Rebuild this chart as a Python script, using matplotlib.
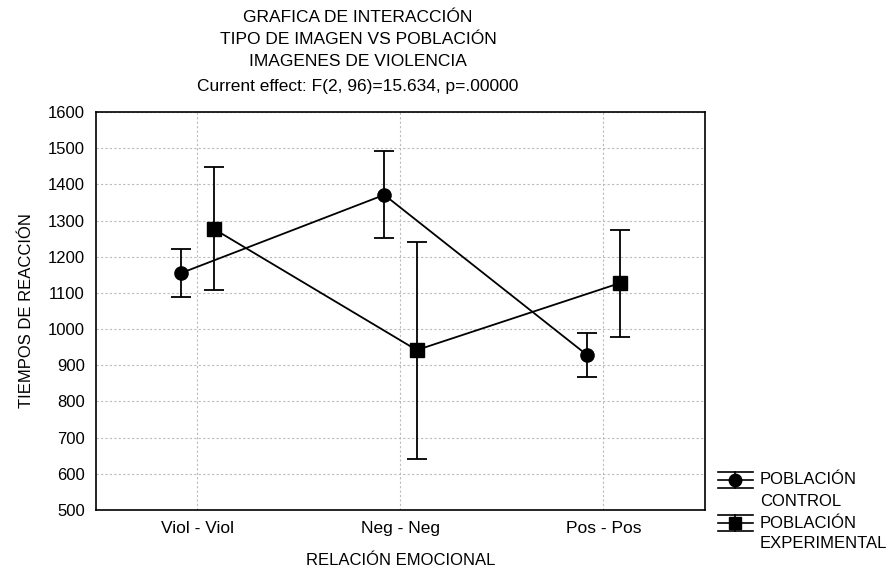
import matplotlib
matplotlib.use("Agg")
import matplotlib.pyplot as plt
from matplotlib.lines import Line2D
import numpy as np

plt.rcParams['font.family'] = ['Liberation Sans', 'DejaVu Sans']

categories = ["Viol - Viol", "Neg - Neg", "Pos - Pos"]
control_mean = [1155, 1371, 928]
control_err = [67, 120, 60]
exper_mean = [1277, 942, 1127]
exper_err = [170, 300, 148]
yticks = [500, 600, 700, 800, 900, 1000, 1100, 1200, 1300, 1400, 1500, 1600]
legend_labels = [["POBLACIÓN", "CONTROL"], ["POBLACIÓN", "EXPERIMENTAL"]]
legend_markers = ['o', 's']

W, H = 887, 568
fig = plt.figure(figsize=(W / 100, H / 100), dpi=100)
ax = fig.add_axes([96 / W, 1 - 510 / H, 609 / W, 398 / H])

x = np.arange(len(categories))
off = 0.08
kw = dict(color='black', markersize=9.5, linewidth=1.3, elinewidth=1.3,
          capsize=7.5, capthick=1.3)
ax.errorbar(x - off, control_mean, yerr=control_err, marker='o', **kw)
ax.errorbar(x + off, exper_mean, yerr=exper_err, marker='s', **kw)

ax.set_xlim(-0.5, 2.5)
ax.set_ylim(500, 1600)
ax.set_yticks(yticks)
ax.set_xticks(x)
ax.set_xticklabels(categories, fontsize=12.5)
ax.tick_params(axis='y', labelsize=12, length=0, pad=8)
ax.tick_params(axis='x', length=0, pad=8)
ax.grid(True, color='#bbbbbb', linestyle=(0, (2, 2)), linewidth=0.8)
ax.set_axisbelow(True)
for s in ax.spines.values():
    s.set_linewidth(1.2)

ax.set_xlabel("RELACIÓN EMOCIONAL", fontsize=12, labelpad=12)
ax.set_ylabel("TIEMPOS DE REACCIÓN", fontsize=12, labelpad=10)

tx = 358 / W
for ypix, txt in [(18, "GRAFICA DE INTERACCIÓN"), (40, "TIPO DE IMAGEN VS POBLACIÓN"),
                  (62, "IMAGENES DE VIOLENCIA"), (86, "Current effect: F(2, 96)=15.634, p=.00000")]:
    fig.text(tx, 1 - ypix / H, txt, ha='center', va='center', fontsize=12.5)

# manual legend (STATISTICA style)
for i, (labs, mk) in enumerate(zip(legend_labels, legend_markers)):
    yc = 480 + i * 43
    for dy in (-8, 0, 8):
        fig.add_artist(Line2D([718 / W, 753 / W], [1 - (yc + dy) / H] * 2,
                              transform=fig.transFigure, color='black', linewidth=1.2))
    fig.add_artist(Line2D([735 / W, 735 / W], [1 - (yc - 8) / H, 1 - (yc + 8) / H],
                          transform=fig.transFigure, color='black', linewidth=1.2))
    fig.add_artist(Line2D([735 / W], [1 - yc / H], transform=fig.transFigure,
                          marker=mk, markersize=9, color='black', linestyle='none'))
    fig.text(760 / W, 1 - yc / H, labs[0], ha='left', va='center', fontsize=12)
    fig.text(760 / W, 1 - (yc + 21) / H, labs[1], ha='left', va='center', fontsize=12)

fig.savefig("out.png", dpi=100)
